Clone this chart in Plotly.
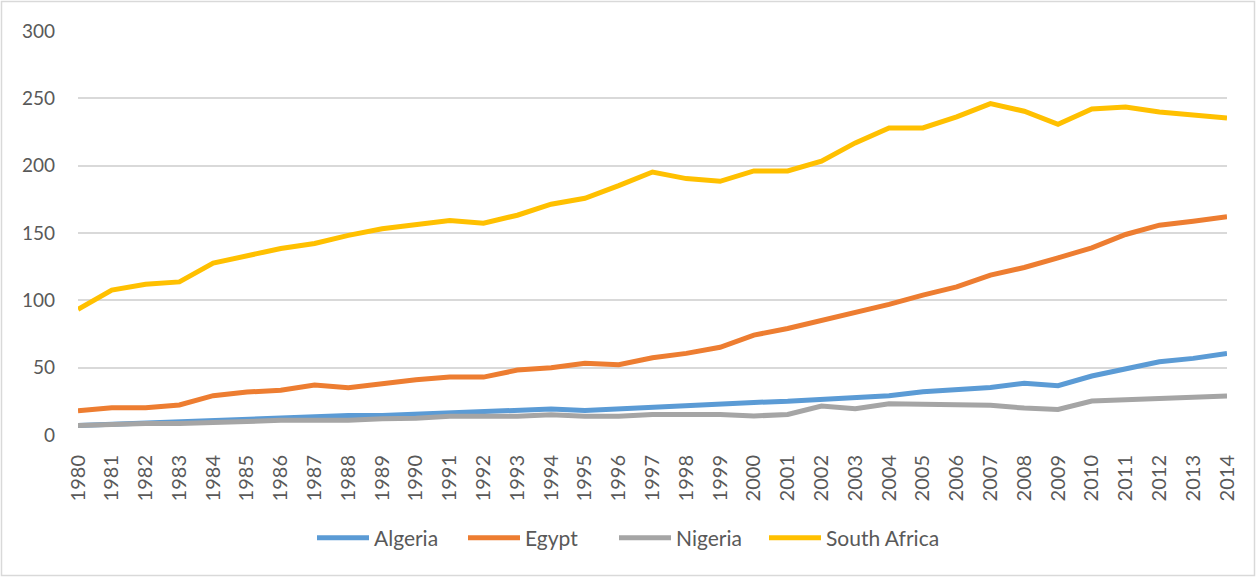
import plotly.graph_objects as go

# ---------------------------------------------------------------------------
# Data
# ---------------------------------------------------------------------------

YEARS = [str(y) for y in range(1980, 2015)]

ALGERIA = [
    7, 8, 9, 10, 11, 12, 12.5, 13.5, 14.5, 14.5,
    15.5, 16.5, 17.5, 18.3, 19.3, 18.2, 19.5, 20.5, 21.5, 23.5,
    24.2, 25, 26.5, 28.4, 29.2, 32.1, 33.4, 35.3, 38.4, 36.6,
    43.8, 48.7, 54.4, 56.9, 60.6,
]
EGYPT = [
    18, 20.3, 20.3, 22.3, 29.2, 31.9, 33.2, 37.1, 35.1, 38.4,
    41, 43, 43, 48.2, 49.9, 53.2, 52.2, 57.4, 60.6, 65.1,
    74.2, 79.1, 84.8, 90.7, 97, 103.9, 110, 118.7, 124.4, 131.6,
    139, 148.9, 155.8, 158.8, 162,
]
NIGERIA = [
    7, 8, 8.5, 8.5, 9, 10, 11, 11, 11, 12,
    12.5, 14, 14, 14, 15, 14, 14, 15.3, 15.3, 15.3,
    14.1, 15.3, 21.5, 19.5, 23.2, 22.5, 22, 22, 20, 19,
    25.2, 26, 27.4, 27.4, 28.9,
]
SOUTH_AFRICA = [
    93.3, 107.6, 112, 113.7, 127.6, 133.3, 138.5, 142.2, 148.2, 153.1,
    156.3, 159.3, 157.3, 163.2, 171.4, 175.8, 185.2, 195.3, 190.4, 188.4,
    196.1, 196.1, 203.3, 216.9, 228, 228, 236.2, 246.1, 240.4, 230.7,
    242.1, 243.6, 239.9, 237.4, 235.4,
]

# name -> (values, colour, legend group); the long last entry gets its own
# legend box so the fixed entry width of the first one doesn't clip it
SERIES = {
    "Algeria":      (ALGERIA, "#5B9BD5", "legend"),
    "Egypt":        (EGYPT, "#ED7D31", "legend"),
    "Nigeria":      (NIGERIA, "#A5A5A5", "legend"),
    "South Africa": (SOUTH_AFRICA, "#FFC000", "legend2"),
}

FONT = "Lato, 'Open Sans', sans-serif"
TEXT_COLOUR = "#595959"

W, H = 1256, 577
L, R, T, B = 78, 29, 31, 142
PW, PH = W - L - R, H - T - B

fig = go.Figure()
for name, (values, colour, legend) in SERIES.items():
    fig.add_trace(go.Scatter(
        x=YEARS,
        y=values,
        name=name,
        mode="lines",
        line=dict(color=colour, width=5),
        legend=legend,
    ))

# outer chart frame (light grey border round the whole chart area)
fig.add_shape(
    type="rect", xref="paper", yref="paper",
    x0=(1.5 - L) / PW, x1=(W - 1.5 - L) / PW,
    y0=-(H - 1.5 - T - PH) / PH, y1=(PH + T - 1.5) / PH,
    line=dict(color="#d9d9d9", width=1.5),
    fillcolor="rgba(0,0,0,0)", layer="below",
)

legend_common = dict(
    orientation="h",
    xref="container", yref="container",
    y=1 - 538 / H,
    xanchor="left", yanchor="middle",
    font=dict(size=21, color=TEXT_COLOUR),
    itemwidth=52,
    traceorder="normal",
)

fig.update_layout(
    width=W,
    height=H,
    margin=dict(l=L, r=R, t=T, b=B),
    paper_bgcolor="white",
    plot_bgcolor="white",
    font=dict(family=FONT, color=TEXT_COLOUR, size=19),
    showlegend=True,
    legend=dict(x=312 / W, entrywidth=84, **legend_common),
    legend2=dict(x=764 / W, **legend_common),
    xaxis=dict(
        type="category",
        tickangle=-90,
        showgrid=False,
        showline=False,
        zeroline=False,
        ticks="",
        tickfont=dict(size=20, color=TEXT_COLOUR),
        ticklabelstandoff=15,
    ),
    yaxis=dict(
        range=[0, 300],
        dtick=50,
        showgrid=True,
        gridcolor="#d9d9d9",
        gridwidth=1.7,
        zeroline=False,
        showline=False,
        ticks="",
        tickfont=dict(size=19, color=TEXT_COLOUR),
        ticklabelstandoff=22,
    ),
)

# drop the default page margin so the chart sits at the window's top-left
fig.write_html(
    "out.html",
    config={"displayModeBar": False},
    post_script="document.body.style.margin='0';",
)
